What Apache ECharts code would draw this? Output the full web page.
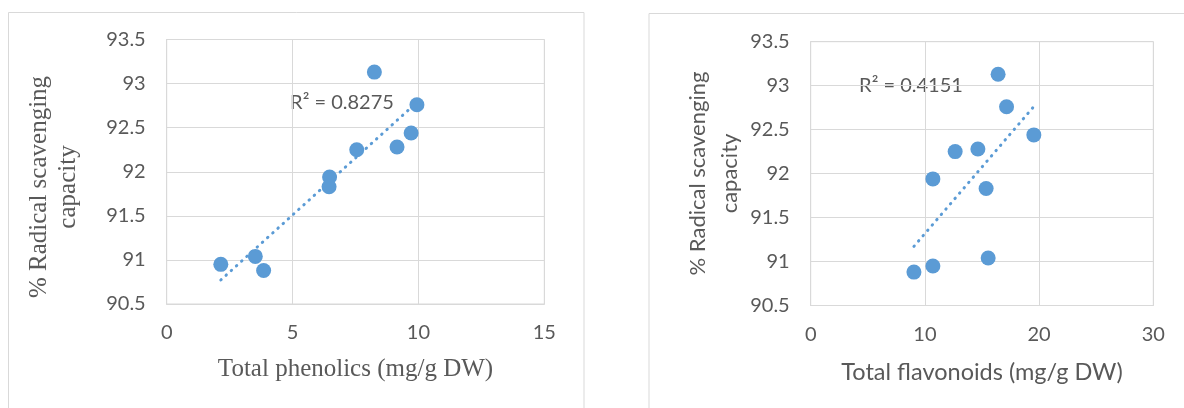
<!DOCTYPE html>
<html>
<head>
<meta charset="utf-8">
<script src="https://cdn.jsdelivr.net/npm/echarts@6/dist/echarts.min.js"></script>
<style>
  html, body { margin: 0; padding: 0; background: #ffffff; }
  #chart { width: 1184px; height: 408px; }
</style>
</head>
<body>
<div id="chart"></div>
<script>
// Radical scavenging capacity (%) of each extract
const scavenging = [90.95, 91.04, 90.88, 91.94, 91.83, 92.25, 93.13, 92.28, 92.44, 92.76];
// Total phenolics (mg/g DW), same order
const phenolics = [2.15, 3.52, 3.85, 6.47, 6.45, 7.55, 8.25, 9.15, 9.71, 9.94];
// Total flavonoids (mg/g DW), same order
const flavonoids = [10.7, 15.54, 9.04, 10.7, 15.36, 12.65, 16.41, 14.64, 19.54, 17.15];

const yTicks = [90.5, 91, 91.5, 92, 92.5, 93, 93.5];
const phenolicTicks = [0, 5, 10, 15];
const flavonoidTicks = [0, 10, 20, 30];

const r2Labels = ['R\u00b2 = 0.8275', 'R\u00b2 = 0.4151'];
const xTitles = ['Total phenolics (mg/g DW)', 'Total flavonoids (mg/g DW)'];
const yTitle = '% Radical scavenging\ncapacity';

const BLUE = '#5b9bd5';
const GRID = '#d9d9d9';
const TEXT = '#595959';
const SANS = 'Lato, "Open Sans", sans-serif';
const SERIF = '"Liberation Serif", "DejaVu Serif", serif';

// least-squares linear trend, returned as its two end points
function trend(xs, ys) {
  const n = xs.length;
  const mx = xs.reduce((a, b) => a + b, 0) / n;
  const my = ys.reduce((a, b) => a + b, 0) / n;
  let sxy = 0, sxx = 0;
  for (let i = 0; i < n; i++) {
    sxy += (xs[i] - mx) * (ys[i] - my);
    sxx += (xs[i] - mx) * (xs[i] - mx);
  }
  const k = sxy / sxx, b = my - k * mx;
  const lo = Math.min(...xs), hi = Math.max(...xs);
  return [[lo, k * lo + b], [hi, k * hi + b]];
}

function pairs(xs, ys) { return xs.map((x, i) => [x, ys[i]]); }

function xAxis(idx, ticks, title, font, size, gap) {
  return {
    type: 'value', gridIndex: idx,
    min: ticks[0], max: ticks[ticks.length - 1], interval: ticks[1] - ticks[0],
    name: title, nameLocation: 'middle', nameGap: gap,
    nameTextStyle: { color: TEXT, fontFamily: font, fontSize: size },
    axisLine: { show: true, lineStyle: { color: GRID, width: 1 } },
    axisTick: { show: false },
    axisLabel: { color: TEXT, fontFamily: SANS, fontSize: 20, margin: 19 },
    splitLine: { show: true, lineStyle: { color: GRID, width: 1 } }
  };
}

function yAxis(idx) {
  return {
    type: 'value', gridIndex: idx,
    min: yTicks[0], max: yTicks[yTicks.length - 1], interval: 0.5,
    axisLine: { show: true, lineStyle: { color: GRID, width: 1 } },
    axisTick: { show: false },
    axisLabel: { color: TEXT, fontFamily: SANS, fontSize: 20, margin: 21 },
    splitLine: { show: true, lineStyle: { color: GRID, width: 1 } }
  };
}

function scatter(idx, xs) {
  return {
    type: 'scatter', xAxisIndex: idx, yAxisIndex: idx,
    data: pairs(xs, scavenging),
    symbol: 'circle', symbolSize: 15,
    itemStyle: { color: BLUE, opacity: 1 },
    z: 3
  };
}

function trendLine(idx, xs) {
  return {
    type: 'line', xAxisIndex: idx, yAxisIndex: idx,
    data: trend(xs, scavenging),
    symbol: 'none', silent: true,
    lineStyle: { color: BLUE, width: 3, type: [0.5, 6.5], cap: 'round' },
    z: 2
  };
}

const chart = echarts.init(document.getElementById('chart'), null, { renderer: 'canvas' });
chart.setOption({
  backgroundColor: '#ffffff',
  animation: false,
  grid: [
    { left: 166.7, top: 39.5, width: 377.6, height: 264.5, show: true, borderColor: GRID, borderWidth: 1 },
    { left: 810.7, top: 41.7, width: 342.6, height: 263.8, show: true, borderColor: GRID, borderWidth: 1 }
  ],
  xAxis: [
    xAxis(0, phenolicTicks, xTitles[0], SERIF, 25, 53),
    xAxis(1, flavonoidTicks, xTitles[1], SANS, 23.5, 55)
  ],
  yAxis: [yAxis(0), yAxis(1)],
  series: [
    trendLine(0, phenolics), scatter(0, phenolics),
    trendLine(1, flavonoids), scatter(1, flavonoids)
  ],
  graphic: [
    // chart area frames
    { type: 'rect', shape: { x: 8.5, y: 12.5, width: 575.5, height: 420 },
      style: { fill: null, stroke: GRID, lineWidth: 1 }, silent: true, z: -10 },
    { type: 'rect', shape: { x: 649, y: 13.5, width: 560, height: 420 },
      style: { fill: null, stroke: GRID, lineWidth: 1 }, silent: true, z: -10 },
    // vertical axis titles
    { type: 'text', x: 54, y: 187, rotation: Math.PI / 2,
      style: { text: yTitle, fill: TEXT, font: '25px ' + SERIF, align: 'center', verticalAlign: 'middle', lineHeight: 29 } },
    { type: 'text', x: 714, y: 173.5, rotation: Math.PI / 2,
      style: { text: yTitle, fill: TEXT, font: '22px ' + SANS, align: 'center', verticalAlign: 'middle', lineHeight: 32 } },
    // R-squared labels of the trend lines
    { type: 'text', x: 342, y: 102.7,
      style: { text: r2Labels[0], fill: TEXT, font: '20px ' + SANS, align: 'center', verticalAlign: 'middle' } },
    { type: 'text', x: 911, y: 85.7,
      style: { text: r2Labels[1], fill: TEXT, font: '20px ' + SANS, align: 'center', verticalAlign: 'middle' } }
  ]
});
</script>
</body>
</html>
